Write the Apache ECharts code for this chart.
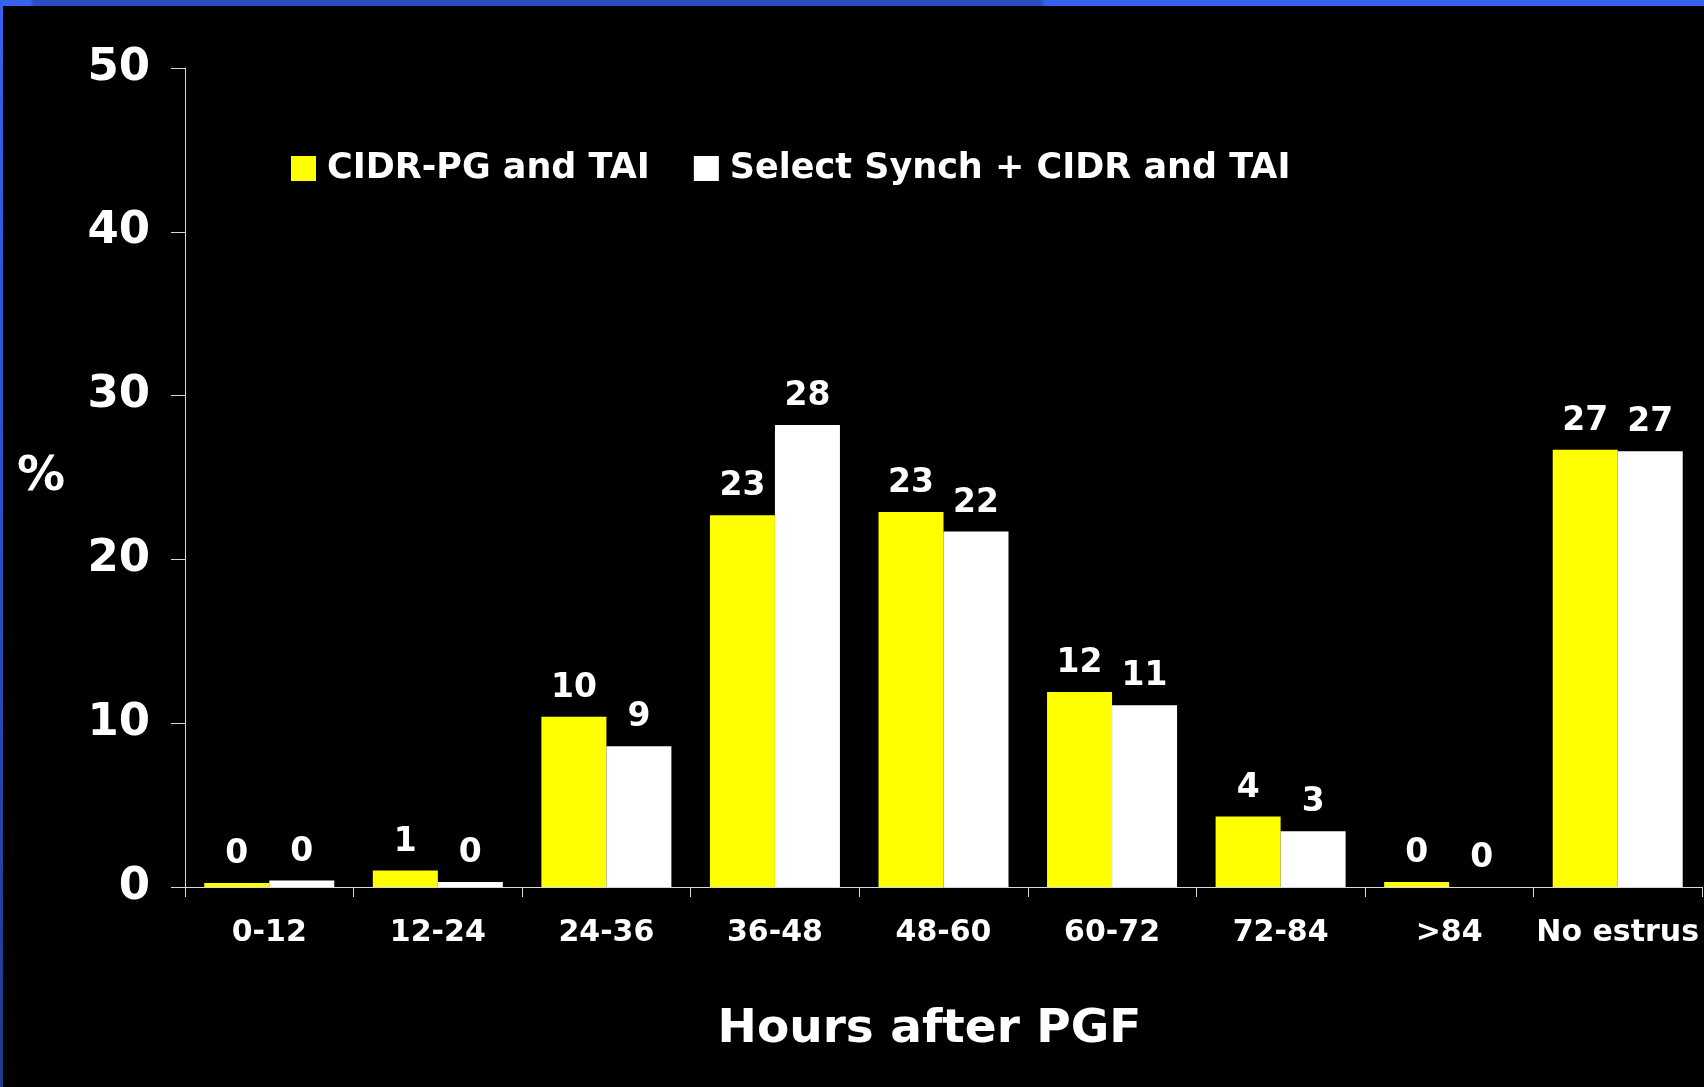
<!DOCTYPE html>
<html>
<head>
<meta charset="utf-8">
<script src="https://cdn.jsdelivr.net/npm/echarts@6/dist/echarts.min.js"></script>
<style>
html,body{margin:0;padding:0;background:#000;width:1704px;height:1087px;overflow:hidden;}
#chart{position:absolute;left:0;top:0;width:1704px;height:1087px;}
#topband{position:absolute;left:0;top:0;width:1704px;height:6px;z-index:5;
 background:linear-gradient(90deg,#3563ee 0px,#3563ee 30px,#2a4fc2 34px,#2a4fc2 1040px,#3563ee 1046px,#3563ee 1704px);}
#leftband{position:absolute;left:0;top:0;width:3px;height:1087px;z-index:5;
 background:linear-gradient(180deg,#3563ee 0%,#2a4fc2 50%,#1e3a8a 100%);}
</style>
</head>
<body>
<div id="chart"></div>
<div id="topband"></div>
<div id="leftband"></div>
<script>
var categories = ['0-12','12-24','24-36','36-48','48-60','60-72','72-84','>84','No estrus'];
var seriesNames = ['CIDR-PG and TAI','Select Synch + CIDR and TAI'];
var cidrPG = [0.25, 1.0, 10.4, 22.7, 22.9, 11.9, 4.3, 0.3, 26.7];
var selectSynch = [0.4, 0.3, 8.6, 28.2, 21.7, 11.1, 3.4, 0, 26.6];
var yTicks = [0, 10, 20, 30, 40, 50];

var FONT = '"DejaVu Sans", Verdana, sans-serif';
var chart = echarts.init(document.getElementById('chart'), null, {renderer:'canvas'});
var labelCfg = {
  show:true, position:'top', distance:12, color:'#fff',
  fontFamily:FONT, fontWeight:'bold', fontSize:33,
  formatter:function(p){return String(Math.round(p.value));}
};
chart.setOption({
  backgroundColor:'#000',
  animation:false,
  grid:{left:185, right:2, top:68, bottom:200, containLabel:false},
  legend:{
    data:seriesNames, left:286, top:146, icon:'rect',
    itemWidth:25, itemHeight:25, itemGap:44,
    textStyle:{color:'#fff', fontFamily:FONT, fontWeight:'bold', fontSize:35, padding:[0,0,0,6], lineHeight:34}
  },
  xAxis:{
    type:'category', data:categories,
    axisLine:{lineStyle:{color:'#d8d8d8', width:1}},
    axisTick:{show:true, length:10, alignWithLabel:false, lineStyle:{color:'#d8d8d8'}},
    axisLabel:{color:'#fff', fontFamily:FONT, fontWeight:'bold', fontSize:30, margin:31, interval:0},
    name:'Hours after PGF', nameLocation:'middle', nameGap:143,
    nameTextStyle:{color:'#fff', fontFamily:FONT, fontWeight:'bold', fontSize:47, verticalAlign:'middle', padding:[0,28,0,0]}
  },
  yAxis:{
    type:'value', min:0, max:50, interval:10,
    axisLine:{show:true, lineStyle:{color:'#d8d8d8', width:1}},
    axisTick:{show:true, length:14, lineStyle:{color:'#d8d8d8'}},
    splitLine:{show:false},
    axisLabel:{color:'#fff', fontFamily:FONT, fontWeight:'bold', fontSize:45, margin:35,
      formatter:function(v){return yTicks.indexOf(v)>=0 ? String(v) : '';}},
    name:'%', nameLocation:'middle', nameGap:144, nameRotate:0,
    nameTextStyle:{color:'#fff', fontFamily:FONT, fontWeight:'bold', fontSize:48, align:'center', verticalAlign:'middle', padding:[12,0,0,0]}
  },
  series:[
    {name:seriesNames[0], type:'bar', data:cidrPG, barWidth:65, barGap:'0%',
     itemStyle:{color:'#ffff00'}, label:labelCfg},
    {name:seriesNames[1], type:'bar', data:selectSynch, barWidth:65, barGap:'0%',
     itemStyle:{color:'#ffffff'}, label:labelCfg}
  ]
});
</script>
</body>
</html>
